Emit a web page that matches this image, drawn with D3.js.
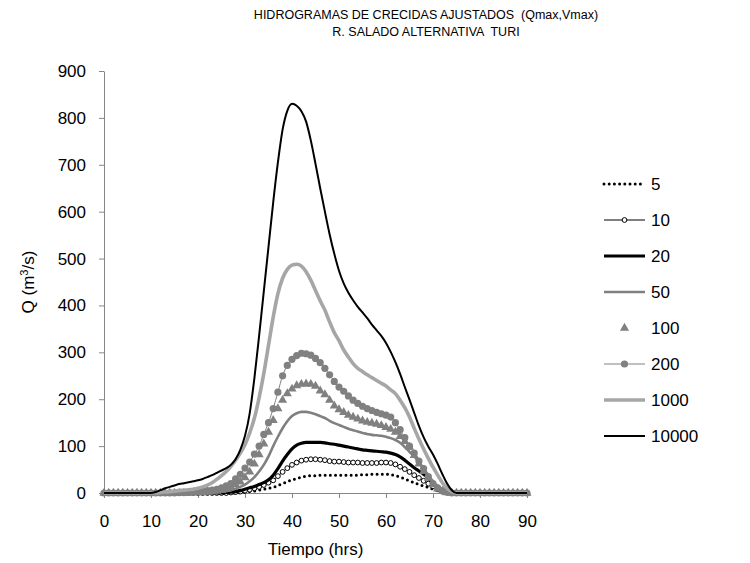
<!DOCTYPE html>
<html><head><meta charset="utf-8">
<script src="https://cdn.jsdelivr.net/npm/d3@7"></script>
<style>body{margin:0;background:#fff}svg{display:block}text{font-family:"Liberation Sans",Arial,sans-serif;white-space:pre}</style>
</head><body>
<svg id="c" width="750" height="563"></svg>
<script>
const hours = d3.range(0, 91);
const xTicks = [0,10,20,30,40,50,60,70,80,90];
const yTicks = [0,100,200,300,400,500,600,700,800,900];
const seriesNames = ["5","10","20","50","100","200","1000","10000"];
// hourly values from t=0; hours beyond the listed ones are 0
const q5 = [0,0,0,0,0,0,0,0,0,0,0,0,0,0,0,0,0,0,0,0,0,0,0,0,0,0,0,0,0,1,2,3,4,6,8,10,12,16,20,24,28,31,34,36,37,37,38,38,38,38,38,38,38,38,38,39,39,40,40,40,40,39,37,34,30,26,22,18,15,12,8,5,2,1,0];
const q10 = [0,0,0,0,0,0,0,0,0,0,0,0,0,0,0,0,0,0,0,0,0,0,0,0,0,0,0,1,2,3,5,7,10,13,17,22,27,36,45,53,60,65,69,71,72,72,71,70,68,67,67,66,65,65,65,64,64,64,64,65,65,64,61,56,51,45,38,32,26,20,14,8,3,1,0];
const q20 = [0,0,0,0,0,0,0,0,0,0,0,0,0,0,0,0,0,0,0,0,0,0,0,0,0,0,1,2,3,5,8,11,14,18,22,28,38,52,68,82,94,102,106,108,108,108,108,107,105,104,102,100,98,96,94,92,91,90,89,88,87,85,82,77,70,62,54,47,40,32,22,12,5,1,0];
const q50 = [0,0,0,0,0,0,0,0,0,0,0,0,0,0,0,0,0,0,0,0,0,0,1,1,2,3,4,6,9,13,18,25,34,46,60,78,100,120,138,153,164,170,173,173,171,168,164,160,154,149,145,141,137,134,131,128,126,124,123,122,120,117,113,107,98,88,78,66,52,38,25,13,5,1,0];
const q100 = [0,0,0,0,0,0,0,0,0,0,0,0,0,0,0,0,0,0,0,1,1,1,2,3,4,6,8,12,18,24,33,45,62,82,105,130,155,180,198,212,222,229,232,233,232,228,218,210,198,186,178,172,166,162,158,154,151,149,147,144,140,136,130,121,110,98,80,62,46,32,18,9,4,1,0];
const q200 = [0,0,0,0,0,0,0,0,0,0,0,0,0,0,0,0,1,1,2,2,3,4,5,6,8,11,15,20,30,40,53,66,83,100,125,150,180,215,250,272,285,293,298,297,294,287,278,266,252,238,226,217,207,198,191,185,180,176,172,169,166,162,150,135,118,100,85,68,52,35,20,11,5,2,0];
const q1000 = [0,0,0,0,0,0,0,0,0,0,0,0,1,2,3,4,5,6,7,8,10,13,17,22,29,37,46,57,70,85,103,128,160,203,255,315,375,425,458,477,486,488,484,472,454,432,410,390,365,342,325,305,290,276,266,259,252,246,240,234,228,220,212,198,182,162,138,115,94,74,55,38,22,10,3,0];
const q10000 = [0,0,0,0,0,0,0,0,0,0,0,2,6,10,13,16,19,21,23,25,27,30,34,38,43,48,53,60,72,92,122,170,245,335,430,525,620,705,775,815,830,826,814,792,752,702,650,600,552,510,474,447,427,411,397,385,373,359,347,335,320,301,279,254,226,199,171,143,119,99,82,62,40,20,6,0];
const seriesValues = [q5,q10,q20,q50,q100,q200,q1000,q10000];

const svg = d3.select("#c");
const M = {l:104, r:527, t:71, b:493};
const x = d3.scaleLinear().domain([0,90]).range([M.l, M.r]);
const y = d3.scaleLinear().domain([0,900]).range([M.b, M.t]);
const val = (arr,h) => h < arr.length ? arr[h] : 0;
const FS = 17;

// title
const title = svg.append("text").attr("text-anchor","middle").attr("font-size",12.5).attr("fill","#000");
title.append("tspan").attr("x",426).attr("y",19).text("HIDROGRAMAS DE CRECIDAS AJUSTADOS  (Qmax,Vmax)");
title.append("tspan").attr("x",426).attr("y",36).text("R. SALADO ALTERNATIVA  TURI");

// axes
const axisColor = "#868686";
const gx = svg.append("g").attr("transform",`translate(0,${M.b})`)
  .call(d3.axisBottom(x).tickValues(xTicks).tickSize(5).tickSizeOuter(0).tickPadding(17));
const gy = svg.append("g").attr("transform",`translate(${M.l},0)`)
  .call(d3.axisLeft(y).tickValues(yTicks).tickSize(5).tickSizeOuter(0).tickPadding(13));
[gx,gy].forEach(g=>{
  g.selectAll("path,line").attr("stroke",axisColor).attr("stroke-width",1);
  g.selectAll("text").attr("font-size",FS).attr("fill","#000").attr("font-family","Liberation Sans, Arial, sans-serif");
});
svg.append("text").attr("x",(M.l+M.r)/2).attr("y",555).attr("text-anchor","middle").attr("font-size",FS).text("Tiempo (hrs)");
const yt = svg.append("text").attr("transform",`translate(34,${(M.t+M.b)/2}) rotate(-90)`).attr("text-anchor","middle").attr("font-size",FS);
yt.append("tspan").text("Q (m");
yt.append("tspan").attr("font-size",11).attr("dy",-6).text("3");
yt.append("tspan").attr("dy",6).text("/s)");

const line = arr => d3.line().curve(d3.curveMonotoneX).x(h=>x(h)).y(h=>y(val(arr,h)))(hours);
const plot = svg.append("g");

const styles = {
  "5":    {stroke:"#000", width:3, dash:"0 5.2", cap:"round"},
  "10":   {stroke:"#000", width:1, marker:"openCircle"},
  "20":   {stroke:"#000", width:3.2},
  "50":   {stroke:"#808080", width:2.6},
  "100":  {stroke:null, marker:"triangle"},
  "200":  {stroke:"#808080", width:1, marker:"dot"},
  "1000": {stroke:"#a6a6a6", width:3.6},
  "10000":{stroke:"#000", width:2}
};

function drawMarker(g, type, cx, cy){
  if(type==="openCircle") g.append("circle").attr("cx",cx).attr("cy",cy).attr("r",2.4).attr("fill","#fff").attr("stroke","#000").attr("stroke-width",1);
  if(type==="dot") g.append("circle").attr("cx",cx).attr("cy",cy).attr("r",3.6).attr("fill","#808080");
  if(type==="triangle") g.append("path").attr("transform",`translate(${cx},${cy})`).attr("d",d3.symbol(d3.symbolTriangle, 36)()).attr("fill","#808080");
}

seriesNames.forEach((name,i)=>{
  const s = styles[name], arr = seriesValues[i];
  const g = plot.append("g");
  if(s.stroke){
    g.append("path").attr("d",line(arr)).attr("fill","none").attr("stroke",s.stroke)
      .attr("stroke-width",s.width).attr("stroke-linejoin","round")
      .attr("stroke-linecap",s.cap||"butt").attr("stroke-dasharray",s.dash||null);
  }
  if(s.marker){
    hours.forEach(h=>drawMarker(g, s.marker, x(h), y(val(arr,h))));
  }
});

// legend
const lg = svg.append("g");
seriesNames.forEach((name,i)=>{
  const s = styles[name];
  const ly = 184 + i*36;
  const x0 = 604, x1 = 645;
  if(s.stroke){
    lg.append("line").attr("x1",x0).attr("x2",x1).attr("y1",ly).attr("y2",ly)
      .attr("stroke",s.stroke).attr("stroke-width",s.width)
      .attr("stroke-linecap",s.cap||"butt").attr("stroke-dasharray",s.dash||null);
  }
  if(s.marker) drawMarker(lg, s.marker, (x0+x1)/2, ly);
  lg.append("text").attr("x",651).attr("y",ly+6).attr("font-size",FS).text(name);
});
</script>
</body></html>
